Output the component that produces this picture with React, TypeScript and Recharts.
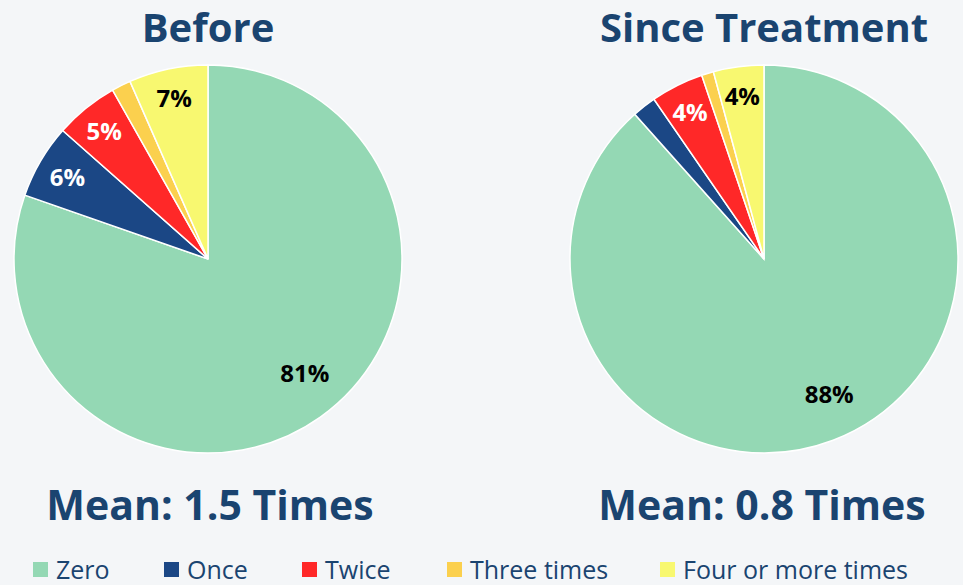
import React from 'react';
import { PieChart, Pie, Cell } from 'recharts';

// ---- data ----
const categories = ['Zero', 'Once', 'Twice', 'Three times', 'Four or more times'];
const beforeValues = [80.5, 6.2, 5.3, 1.6, 6.6];
const sinceValues = [88.4, 2.0, 4.4, 1.0, 4.2];
const beforeLabels = ['81%', '6%', '5%', '', '7%'];
const sinceLabels = ['88%', '', '4%', '', '4%'];
const titles = ['Before', 'Since Treatment'];
const means = ['Mean: 1.5 Times', 'Mean: 0.8 Times'];

// ---- style ----
const COLORS = ['#94d8b4', '#1b4785', '#ff2828', '#fbd04e', '#f8f870'];
const LABEL_COLORS = ['#000000', '#ffffff', '#ffffff', '#000000', '#000000'];
const LABEL_RADIUS = [0.77, 0.84, 0.85, 0.85, 0.85];
const LABEL_TILT = [5, 0, 0, 0, 0]; // degrees, nudges the big label toward the top like the original
const NAVY = '#1a4470';
const BG = '#f4f6f8';
const FONT = '"Open Sans", "DejaVu Sans", sans-serif';
const W = 963;
const H = 585;
const RADIUS = 194;
const CENTERS = [
  { x: 208, y: 259 },
  { x: 764, y: 259 },
];
const LEGEND_LEFT = [33, 164, 302, 447, 660];
const RADIAN = Math.PI / 180;

const toRows = (values: number[], labels: string[]) =>
  categories.map((name, i) => ({ name, value: values[i], label: labels[i] }));

const beforeData = toRows(beforeValues, beforeLabels);
const sinceData = toRows(sinceValues, sinceLabels);

function SliceLabel(props: any) {
  const { cx, cy, midAngle, outerRadius, index, payload } = props;
  const text = payload?.label ?? props.label;
  if (!text) return null;
  const r = outerRadius * LABEL_RADIUS[index];
  const a = (midAngle + LABEL_TILT[index]) * RADIAN;
  const x = cx + r * Math.cos(-a);
  const y = cy + r * Math.sin(-a);
  return (
    <text
      x={x}
      y={y}
      fill={LABEL_COLORS[index]}
      textAnchor="middle"
      dominantBaseline="central"
      fontFamily={FONT}
      fontWeight={700}
      fontSize={24}
    >
      {text}
    </text>
  );
}

export default function App() {
  const sets = [beforeData, sinceData];
  return (
    <div
      style={{
        position: 'absolute',
        left: 0,
        top: 0,
        width: W,
        height: H,
        background: BG,
        fontFamily: FONT,
        overflow: 'hidden',
      }}
    >
      <PieChart
        width={W}
        height={H}
        margin={{ top: 0, right: 0, bottom: 0, left: 0 }}
        style={{ position: 'absolute', left: 0, top: 0 }}
      >
        {sets.map((data, k) => (
          <Pie
            key={titles[k]}
            data={data}
            dataKey="value"
            nameKey="name"
            cx={CENTERS[k].x}
            cy={CENTERS[k].y}
            outerRadius={RADIUS}
            startAngle={90}
            endAngle={-270}
            stroke="#ffffff"
            strokeWidth={1.5}
            labelLine={false}
            label={SliceLabel}
            isAnimationActive={false}
          >
            {data.map((entry, i) => (
              <Cell key={entry.name} fill={COLORS[i]} />
            ))}
          </Pie>
        ))}
      </PieChart>

      {titles.map((t, k) => (
        <div
          key={t}
          style={{
            position: 'absolute',
            left: CENTERS[k].x - 250,
            width: 500,
            top: 2,
            textAlign: 'center',
            color: NAVY,
            fontWeight: 700,
            fontSize: 40,
            lineHeight: '50px',
          }}
        >
          {t}
        </div>
      ))}

      {means.map((t, k) => (
        <div
          key={t}
          style={{
            position: 'absolute',
            left: CENTERS[k].x - 250 + (k === 0 ? 2 : -2),
            width: 500,
            top: 474,
            textAlign: 'center',
            color: NAVY,
            fontWeight: 700,
            fontSize: 41,
            lineHeight: '60px',
          }}
        >
          {t}
        </div>
      ))}

      {categories.map((name, i) => (
        <div
          key={name}
          style={{
            position: 'absolute',
            left: LEGEND_LEFT[i],
            top: 553,
            height: 32,
            display: 'flex',
            alignItems: 'center',
            color: NAVY,
            fontSize: 25,
            lineHeight: '32px',
            whiteSpace: 'nowrap',
          }}
        >
          <span
            style={{
              display: 'inline-block',
              width: 15,
              height: 15,
              background: COLORS[i],
              marginRight: 8,
            }}
          />
          {name}
        </div>
      ))}
    </div>
  );
}
